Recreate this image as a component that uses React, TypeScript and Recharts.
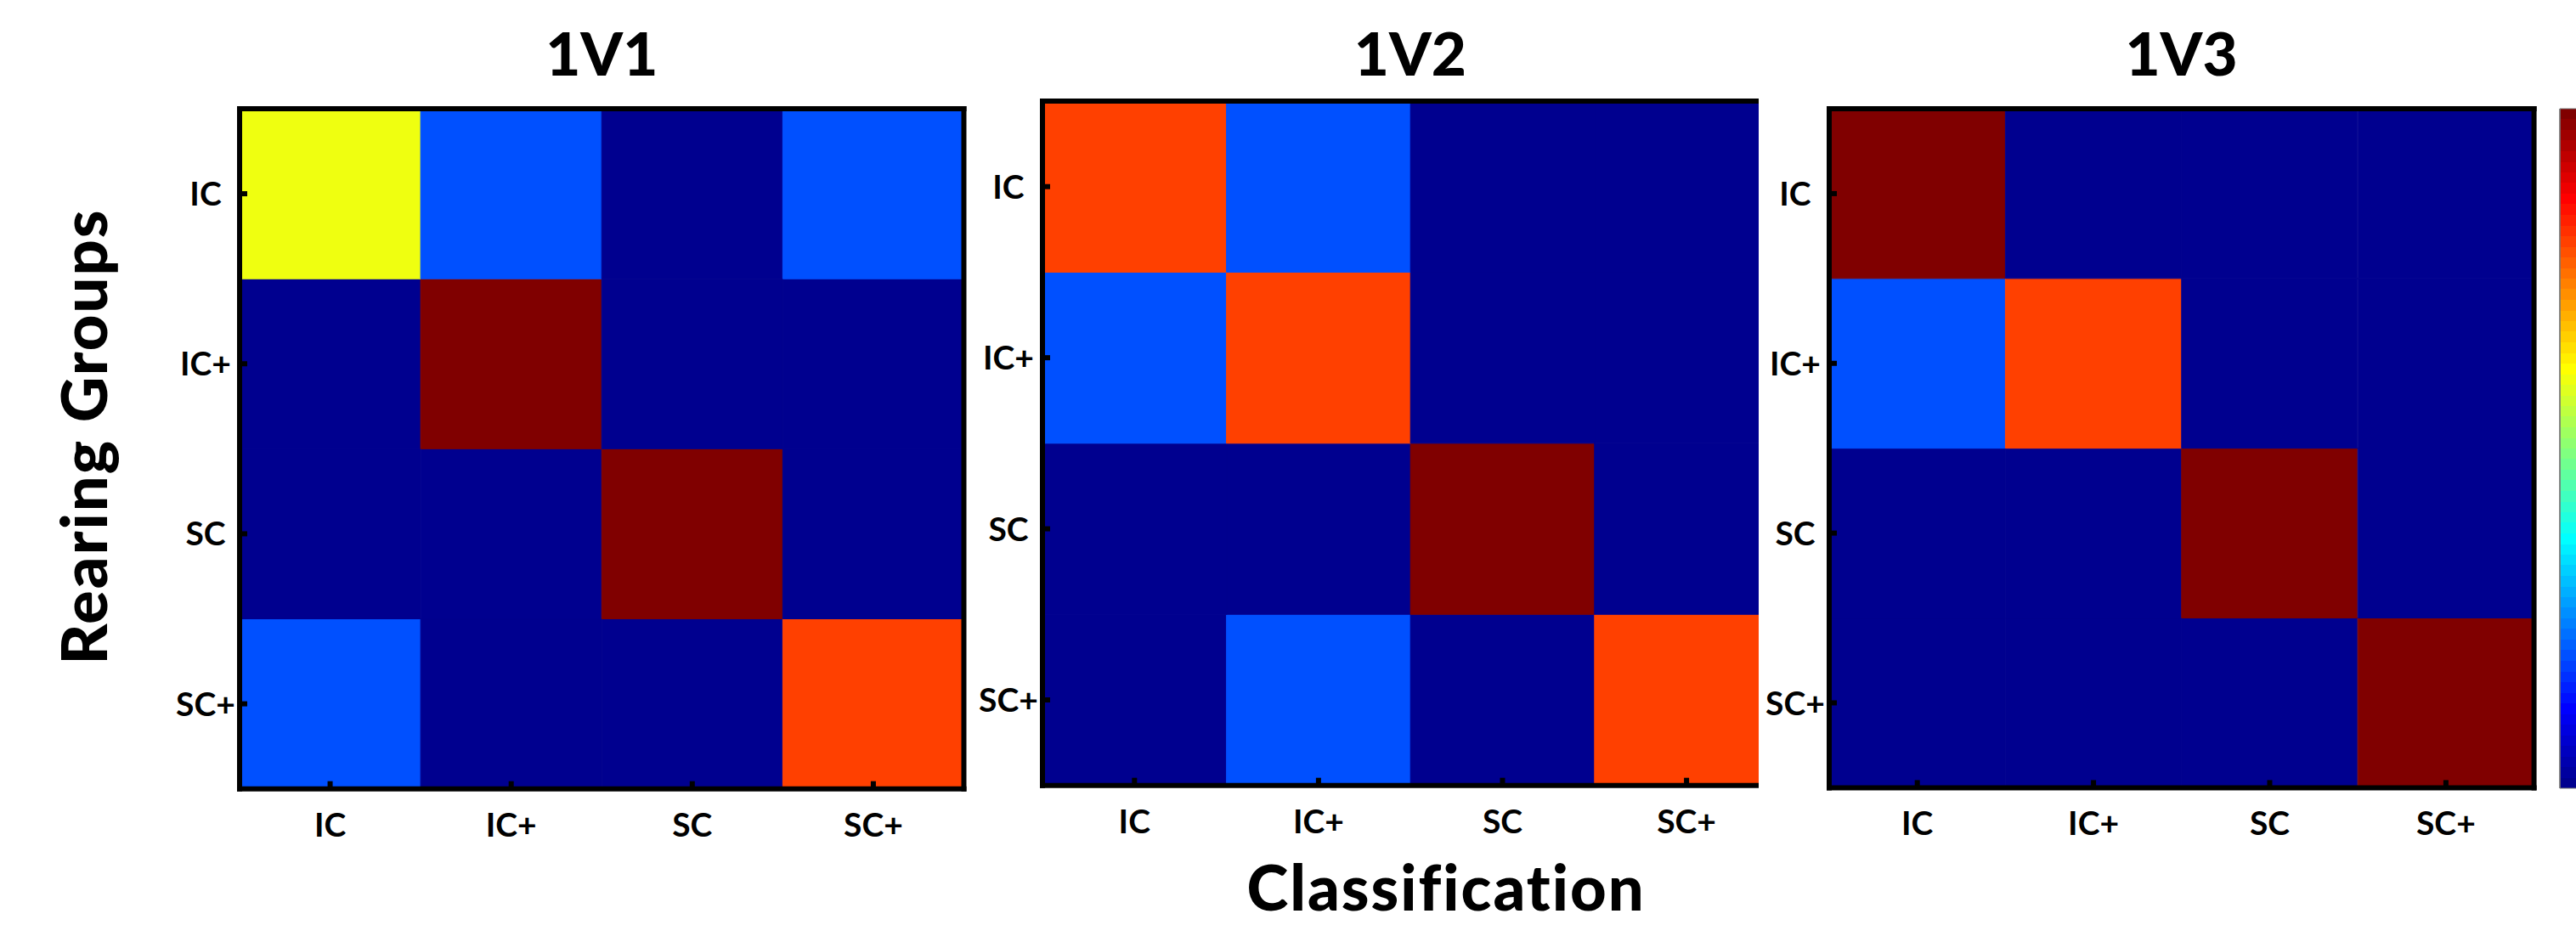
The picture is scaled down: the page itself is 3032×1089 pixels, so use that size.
import React from "react";
import { Bar, BarChart, Cell, XAxis, YAxis } from "recharts";

// true rearing group (rows) vs. classification (columns), fraction classified
const groups = ["IC", "IC+", "SC", "SC+"];

const rates1v1 = [
  [0.6, 0.2, 0, 0.2],
  [0, 1, 0, 0],
  [0, 0, 1, 0],
  [0.2, 0, 0, 0.8],
];

const rates1v2 = [
  [0.8, 0.2, 0, 0],
  [0.2, 0.8, 0, 0],
  [0, 0, 1, 0],
  [0, 0.2, 0, 0.8],
];

const rates1v3 = [
  [1, 0, 0, 0],
  [0.2, 0.8, 0, 0],
  [0, 0, 1, 0],
  [0, 0, 0, 1],
];

const rowTicks = [0.5, 1.5, 2.5, 3.5];
const colorbarTicks = [0.2, 0.4, 0.6, 0.8];

const FONT = "Lato, 'Noto Sans', sans-serif";

// matlab jet(64)
function jetRow(i: number) {
  const x = i / 64;
  const c = (v: number) => Math.round(Math.max(0, Math.min(1, v)) * 255);
  const r = c(1.5 - Math.abs(4 * x - 3));
  const g = c(1.5 - Math.abs(4 * x - 2));
  const b = c(1.5 - Math.abs(4 * x - 1));
  return `rgb(${r},${g},${b})`;
}

function jet(v: number) {
  return jetRow(Math.min(64, Math.floor(v * 64 + 1e-9) + 1));
}

type Box = { left: number; top: number; width: number; height: number };

// outer margin; each axis takes 1 more px
const M = { top: 20, right: 20, bottom: 90, left: 100 };

const border = { stroke: "#000", strokeWidth: 6, strokeLinecap: "square" as const };
const tickLine = { stroke: "#000", strokeWidth: 6 };

function TickText({ x, y, label }: { x: number; y: number; label: string }) {
  return (
    <text
      x={x}
      y={y}
      dy="0.36em"
      textAnchor="middle"
      fontSize={39}
      fontWeight={700}
      fontFamily={FONT}
      fill="#000"
    >
      {label}
    </text>
  );
}

function HeatPanel({ rates, box }: { rates: number[][]; box: Box }) {
  const data = groups.map((g) => ({
    cls: g,
    r0: 1,
    r1: 1,
    r2: 1,
    r3: 1,
  }));
  // stack from bottom: SC+ row first
  const rowsBottomUp = [3, 2, 1, 0];

  return (
    <div style={{ position: "absolute", left: box.left - M.left - 1, top: box.top - M.top - 1 }}>
      <BarChart
        width={box.width + M.left + M.right + 2}
        height={box.height + M.top + M.bottom + 2}
        data={data}
        margin={M}
        barCategoryGap={0}
        barGap={0}
      >
        <XAxis
          dataKey="cls"
          height={1}
          interval={0}
          axisLine={border}
          tickLine={tickLine}
          tickSize={-9}
          tickMargin={51}
          tick={(p: any) => <TickText x={p.x} y={p.y} label={p.payload.value} />}
        />
        <XAxis
          xAxisId="top"
          orientation="top"
          dataKey="cls"
          height={1}
          interval={0}
          axisLine={border}
          tickLine={tickLine}
          tickSize={-9}
          tick={false}
        />
        <YAxis
          type="number"
          domain={[0, 4]}
          ticks={rowTicks}
          width={1}
          interval={0}
          axisLine={border}
          tickLine={tickLine}
          tickSize={-9}
          tickMargin={49}
          tick={(p: any) => (
            <TickText x={p.x} y={p.y} label={groups[3 - Math.floor(p.payload.value)]} />
          )}
        />
        <YAxis
          yAxisId="right"
          orientation="right"
          type="number"
          domain={[0, 4]}
          ticks={rowTicks}
          width={1}
          interval={0}
          axisLine={border}
          tickLine={tickLine}
          tickSize={-9}
          tick={false}
        />
        {rowsBottomUp.map((r) => (
          <Bar key={r} dataKey={`r${r}`} stackId="m" isAnimationActive={false}>
            {data.map((d, j) => (
              <Cell key={d.cls} fill={jet(rates[r][j])} stroke={jet(rates[r][j])} strokeWidth={1} />
            ))}
          </Bar>
        ))}
      </BarChart>
    </div>
  );
}

function Colorbar({ box }: { box: Box }) {
  const m = { top: 4, right: 4, bottom: 4, left: 4 };
  const stops: React.ReactNode[] = [];
  for (let k = 0; k < 64; k++) {
    const col = jetRow(64 - k);
    stops.push(<stop key={`a${k}`} offset={k / 64} stopColor={col} />);
    stops.push(<stop key={`b${k}`} offset={(k + 1) / 64} stopColor={col} />);
  }
  return (
    <div style={{ position: "absolute", left: box.left - m.left - 1, top: box.top - m.top }}>
      <BarChart
        width={box.width + m.left + m.right + 1}
        height={box.height + m.top + m.bottom}
        data={[{ k: "cb", v: 1 }]}
        margin={m}
        barCategoryGap={0}
      >
        <defs>
          <linearGradient id="jetGrad" x1="0" y1="0" x2="0" y2="1">
            {stops}
          </linearGradient>
        </defs>
        <XAxis dataKey="k" hide />
        <YAxis
          type="number"
          domain={[0, 1]}
          ticks={colorbarTicks}
          width={1}
          axisLine={{ stroke: "#777", strokeWidth: 1.5 }}
          tickLine={{ stroke: "#222", strokeWidth: 1.2 }}
          tickSize={-8}
          tick={false}
        />
        <Bar dataKey="v" fill="url(#jetGrad)" stroke="#777" strokeWidth={1} isAnimationActive={false} />
      </BarChart>
    </div>
  );
}

const box1: Box = { left: 282, top: 128, width: 852.5, height: 800.7 };
const box2: Box = { left: 1226.7, top: 119.3, width: 866.4, height: 805.7 };
const box3: Box = { left: 2152.7, top: 127.8, width: 829.6, height: 799.4 };
const boxCb: Box = { left: 3013, top: 128, width: 45, height: 800 };

export default function App() {
  const titles = [
    { t: "1V1", b: box1 },
    { t: "1V2", b: box2 },
    { t: "1V3", b: box3 },
  ];
  return (
    <div
      style={{
        position: "fixed",
        left: 0,
        top: 0,
        width: 3032,
        height: 1089,
        overflow: "hidden",
        background: "#fff",
        fontFamily: FONT,
      }}
    >
      <svg width={3032} height={1089} style={{ position: "absolute", left: 0, top: 0 }}>
        {titles.map(({ t, b }) => (
          <text
            key={t}
            x={b.left + b.width / 2}
            y={89}
            textAnchor="middle"
            fontSize={71}
            fontWeight={900}
            fontFamily={FONT}
          >
            {t}
          </text>
        ))}
        <text x={1702} y={1072} textAnchor="middle" fontSize={74} fontWeight={900} fontFamily={FONT} letterSpacing={2}>
          Classification
        </text>
        <text
          transform="translate(126,514) rotate(-90)"
          textAnchor="middle"
          fontSize={74}
          fontWeight={900}
          fontFamily={FONT}
          letterSpacing={2}
        >
          Rearing Groups
        </text>
      </svg>
      <HeatPanel rates={rates1v1} box={box1} />
      <div style={{ position: "absolute", left: 0, top: 0, width: 2070, height: 1089, overflow: "hidden" }}>
        <HeatPanel rates={rates1v2} box={box2} />
      </div>
      <HeatPanel rates={rates1v3} box={box3} />
      <Colorbar box={boxCb} />
    </div>
  );
}
